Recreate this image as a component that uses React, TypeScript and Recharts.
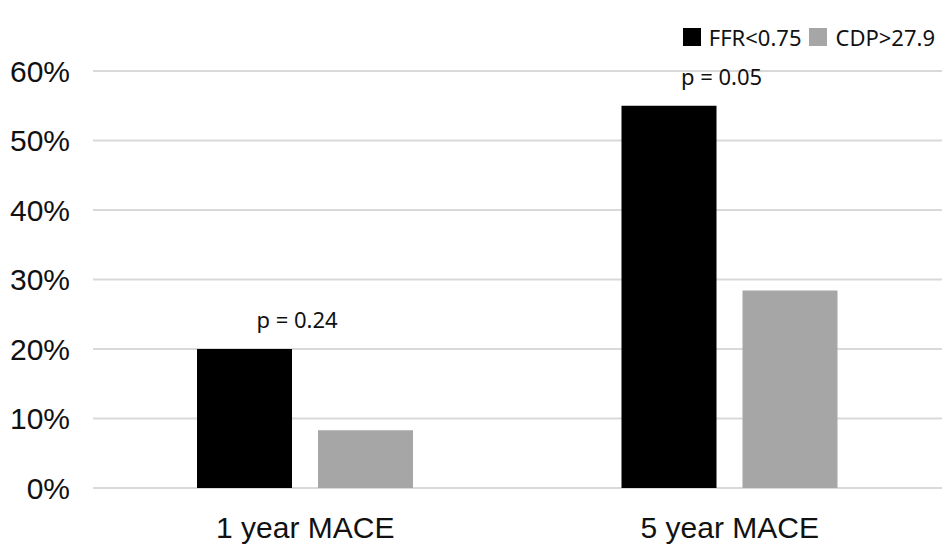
import { BarChart, Bar, XAxis, YAxis, CartesianGrid, Legend, LabelList } from 'recharts'

const categories = ['1 year MACE', '5 year MACE']
const ffrValues = [20, 55]
const cdpValues = [8.3, 28.4]
const pLabels = ['p = 0.24', 'p = 0.05']
const yTicks = [0, 10, 20, 30, 40, 50, 60]
const seriesOrder = ['ffr', 'cdp']

const data = categories.map((name, i) => ({
  name,
  ffr: ffrValues[i],
  cdp: cdpValues[i],
  p: pLabels[i],
}))

const BAR_GAP = 26
const axisFont = '"Liberation Sans", Arial, sans-serif'
const labelFont = '"Noto Sans", "Open Sans", sans-serif'

// p-value sits over the pair, a little left of the group's middle
function PLabel(props: any) {
  const { x, y, width, value } = props
  const cx = x + width + BAR_GAP / 2 - 8
  return (
    <text x={cx} y={y - 21} textAnchor="middle" fontFamily={labelFont} fontSize={22} fill="#111">
      {value}
    </text>
  )
}

function LegendRow({ payload }: any) {
  const items = [...(payload || [])].sort(
    (a: any, b: any) => seriesOrder.indexOf(a.dataKey) - seriesOrder.indexOf(b.dataKey)
  )
  return (
    <div style={{ display: 'flex', height: 24, alignItems: 'center', fontFamily: labelFont, fontSize: 22, color: '#111' }}>
      {items.map((item: any) => (
        <div key={item.value} style={{ display: 'flex', alignItems: 'center', marginLeft: 8 }}>
          <span style={{ width: 18, height: 18, background: item.color, display: 'inline-block', marginRight: 8 }} />
          <span>{item.value}</span>
        </div>
      ))}
    </div>
  )
}

export default function App() {
  return (
    <div style={{ position: 'absolute', left: 0, top: 0, background: '#fff' }}>
      <BarChart
        width={950}
        height={559}
        data={data}
        margin={{ top: 47, right: 8, bottom: 11, left: 0 }}
        barSize={95}
        barGap={BAR_GAP}
      >
        <CartesianGrid vertical={false} stroke="#d9d9d9" strokeWidth={2} />
        <XAxis
          dataKey="name"
          axisLine={false}
          tickLine={false}
          tickSize={0}
          tickMargin={29}
          height={60}
          tick={{ fontSize: 30, fill: '#111', fontFamily: axisFont }}
        />
        <YAxis
          domain={[0, 60]}
          ticks={yTicks}
          tickFormatter={(v) => `${v}%`}
          axisLine={false}
          tickLine={false}
          tickSize={0}
          tickMargin={23}
          width={93}
          tick={{ fontSize: 30, fill: '#111', fontFamily: axisFont }}
        />
        <Legend
          verticalAlign="top"
          align="right"
          content={<LegendRow />}
          wrapperStyle={{ top: 25, right: 15, width: 'auto' }}
        />
        <Bar dataKey="ffr" name="FFR<0.75" fill="#000000" isAnimationActive={false}>
          <LabelList dataKey="p" content={<PLabel />} />
        </Bar>
        <Bar dataKey="cdp" name="CDP>27.9" fill="#a6a6a6" isAnimationActive={false} />
      </BarChart>
    </div>
  )
}
